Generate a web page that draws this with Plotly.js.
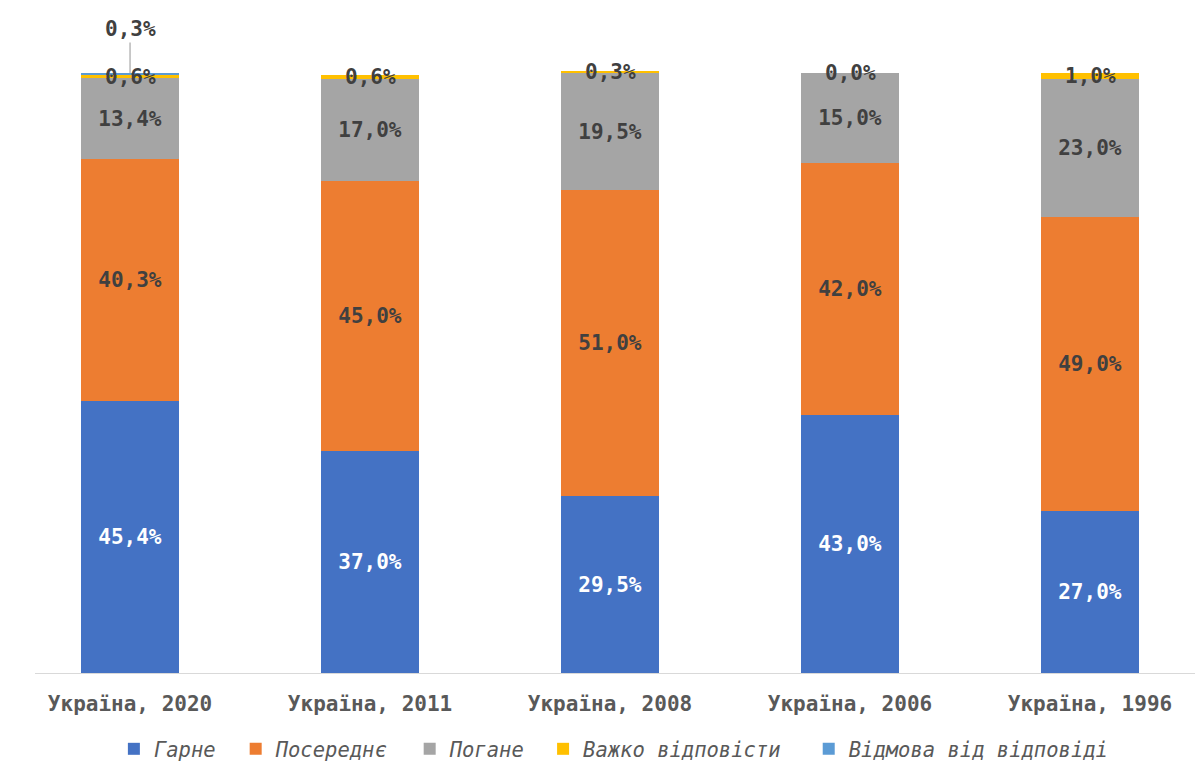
<!DOCTYPE html>
<html>
<head>
<meta charset="utf-8">
<script src="https://cdn.plot.ly/plotly-3.0.1.min.js"></script>
<style>html,body{margin:0;padding:0;background:#fff;}#chart{width:1195px;height:769px;}</style>
</head>
<body>
<div id="chart"></div>
<script>
const categories = ["Україна, 2020", "Україна, 2011", "Україна, 2008", "Україна, 2006", "Україна, 1996"];
const seriesNames = ["Гарне", "Посереднє", "Погане", "Важко відповісти", "Відмова від відповіді"];
const good = [45.4, 37.0, 29.5, 43.0, 27.0];
const average = [40.3, 45.0, 51.0, 42.0, 49.0];
const bad = [13.4, 17.0, 19.5, 15.0, 23.0];
const hardToSay = [0.6, 0.6, 0.3, 0.0, 1.0];
const refusal = [0.3, 0, 0, 0, 0];
const colors = ["#4472C4", "#ED7D31", "#A5A5A5", "#FFC000", "#5B9BD5"];

const FONT = "DejaVu Sans Mono, Liberation Mono, monospace";
const LABEL_SIZE = 21;
const fmt = v => v.toFixed(1).replace(".", ",") + "%";

const allSeries = [good, average, bad, hardToSay, refusal];
const legendIds = ["legend", "legend2", "legend3", "legend4", "legend5"];
const traces = allSeries.map((vals, k) => ({
  type: "bar",
  name: seriesNames[k],
  legend: legendIds[k],
  x: categories,
  y: vals,
  width: 0.405,
  marker: {color: colors[k], line: {width: 0}},
  text: k <= 2 ? vals.map(fmt) : vals.map(() => ""),
  textposition: "inside",
  insidetextanchor: "middle",
  constraintext: "none",
  textangle: 0,
  cliponaxis: false,
  textfont: {family: FONT, size: LABEL_SIZE, weight: "bold", color: k === 0 ? "#FFFFFF" : "#404040"},
  hoverinfo: "skip"
}));

const annotations = [];
categories.forEach((c, i) => {
  const base = good[i] + average[i] + bad[i];
  // label for the thin "Важко відповісти" segment
  annotations.push({
    x: c, y: base + hardToSay[i] / 2, xref: "x", yref: "y",
    text: fmt(hardToSay[i]), showarrow: false,
    font: {family: FONT, size: LABEL_SIZE, weight: "bold", color: "#404040"}
  });
  // label for refusal, placed above with a leader line
  if (refusal[i] > 0) {
    annotations.push({
      x: c, y: base + hardToSay[i] + refusal[i], xref: "x", yref: "y",
      text: fmt(refusal[i]), showarrow: true, arrowhead: 0, arrowwidth: 1.2, arrowcolor: "#A6A6A6",
      ax: 0, ay: -44, standoff: 0,
      font: {family: FONT, size: LABEL_SIZE, weight: "bold", color: "#404040"}
    });
  }
});

const legendX = [0.068, 0.173, 0.323, 0.438, 0.667];
const legendFont = {family: FONT, size: 20.5, style: "italic", color: "#595959"};
const layout = {
  width: 1195, height: 769,
  margin: {l: 35, r: 0, t: 67, b: 96, autoexpand: false},
  barmode: "stack",
  paper_bgcolor: "#FFFFFF", plot_bgcolor: "#FFFFFF",
  showlegend: true,
  xaxis: {
    type: "category",
    range: [-0.396, 4.4375],
    showline: true, linecolor: "#D9D9D9", linewidth: 1,
    showgrid: false, zeroline: false, ticks: "", ticklen: 0,
    ticklabelstandoff: 12,
    tickfont: {family: FONT, size: 21, weight: "bold", color: "#595959"},
    fixedrange: true
  },
  yaxis: {
    range: [0, 101], visible: false, showgrid: false, zeroline: false, fixedrange: true
  },
  annotations: annotations,
  font: {family: FONT}
};
legendIds.forEach((id, k) => {
  layout[id] = {
    orientation: "h", x: legendX[k], xanchor: "left", y: -0.1584, yanchor: "bottom",
    font: legendFont, itemwidth: 30, bgcolor: "rgba(0,0,0,0)"
  };
});

Plotly.newPlot("chart", traces, layout, {displayModeBar: false, staticPlot: true});
</script>
</body>
</html>
